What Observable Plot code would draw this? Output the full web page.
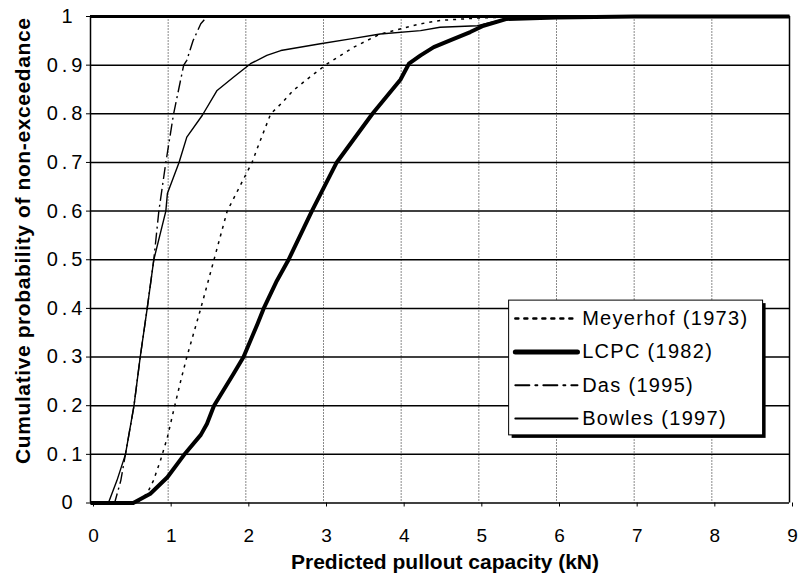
<!DOCTYPE html>
<html>
<head>
<meta charset="utf-8">
<script src="https://cdn.jsdelivr.net/npm/d3@7"></script>
<script src="https://cdn.jsdelivr.net/npm/@observablehq/plot@0.6"></script>
<style>
  body { margin: 0; background: #fff; }
  svg { font-family: "Liberation Sans", Arial, sans-serif; }
  g[aria-label="y-axis tick label"] { letter-spacing: 4px; }
  g[aria-description="legend-text"] { letter-spacing: 1.3px; }
  g[aria-description="y-title"] { letter-spacing: 0.6px; }
</style>
</head>
<body>
<div id="chart"></div>
<script>
// ---- data ----
const seriesNames = ["Meyerhof (1973)", "LCPC (1982)", "Das (1995)", "Bowles (1997)"];

const meyerhofX = [0, 0.60, 0.73, 0.81, 0.90, 0.99, 1.07, 1.16, 1.24, 1.42, 1.59, 1.76, 1.92, 2.08, 2.15, 2.32, 2.45, 2.61, 2.82, 3.05, 3.39, 3.73, 4.25, 4.5, 5.0, 5.4, 6.0, 9.0];
const meyerhofP = [0, 0, 0.02, 0.046, 0.087, 0.135, 0.19, 0.25, 0.30, 0.40, 0.50, 0.60, 0.65, 0.70, 0.73, 0.80, 0.82, 0.848, 0.875, 0.903, 0.937, 0.964, 0.985, 0.992, 0.997, 0.999, 1.0, 1.0];

const lcpcX = [0, 0.55, 0.77, 0.99, 1.20, 1.42, 1.50, 1.59, 1.84, 1.97, 2.15, 2.23, 2.40, 2.55, 2.85, 3.17, 3.63, 3.99, 4.10, 4.25, 4.42, 4.63, 4.89, 5.06, 5.36, 6.0, 7.0, 9.0];
const lcpcP = [0, 0, 0.019, 0.053, 0.098, 0.14, 0.163, 0.20, 0.265, 0.30, 0.368, 0.40, 0.457, 0.50, 0.60, 0.70, 0.80, 0.87, 0.903, 0.92, 0.937, 0.951, 0.968, 0.981, 0.995, 0.998, 1.0, 1.0];

const dasX = [0, 0.31, 0.39, 0.45, 0.56, 0.64, 0.73, 0.815, 0.88, 0.97, 1.07, 1.20, 1.24, 1.32, 1.42, 1.50, 9.0];
const dasP = [0, 0, 0.046, 0.10, 0.20, 0.30, 0.40, 0.50, 0.60, 0.70, 0.80, 0.90, 0.91, 0.95, 0.985, 1.0, 1.0];

const bowlesX = [0, 0.23, 0.34, 0.45, 0.56, 0.64, 0.73, 0.815, 0.97, 0.99, 1.14, 1.24, 1.44, 1.63, 1.84, 2.06, 2.27, 2.45, 2.96, 3.35, 3.73, 4.25, 4.5, 4.98, 5.4, 6.0, 9.0];
const bowlesP = [0, 0, 0.046, 0.10, 0.20, 0.30, 0.40, 0.50, 0.60, 0.636, 0.70, 0.752, 0.797, 0.848, 0.875, 0.903, 0.92, 0.93, 0.944, 0.954, 0.964, 0.971, 0.978, 0.981, 0.997, 1.0, 1.0];

const xTicks = [0, 1, 2, 3, 4, 5, 6, 7, 8, 9];
const yTicks = [0, 0.1, 0.2, 0.3, 0.4, 0.5, 0.6, 0.7, 0.8, 0.9, 1];
const yTickLabels = ["0", "0.1", "0.2", "0.3", "0.4", "0.5", "0.6", "0.7", "0.8", "0.9", "1"];
const xTitle = "Predicted pullout capacity (kN)";
const yTitle = "Cumulative probability of non-exceedance";

// ---- build ----
const seriesList = [
  {name: seriesNames[0], xs: meyerhofX, ps: meyerhofP},
  {name: seriesNames[1], xs: lcpcX, ps: lcpcP},
  {name: seriesNames[2], xs: dasX, ps: dasP},
  {name: seriesNames[3], xs: bowlesX, ps: bowlesP}
];
const styles = {
  [seriesNames[0]]: {w: 1.5, dash: "3,5", lw: 2.5, ldash: "3,6"},
  [seriesNames[1]]: {w: 4, dash: null, lw: 5, ldash: null},
  [seriesNames[2]]: {w: 1.4, dash: "12,4,2,4", lw: 2, ldash: "14,6,2,6"},
  [seriesNames[3]]: {w: 1.4, dash: null, lw: 2, ldash: null}
};
const rows = seriesList.flatMap(s => s.xs.map((x, i) => ({name: s.name, x, p: s.ps[i]})));

// legend layout (data units)
const lg = {x1: 5.39, x2: 8.66, top: 0.416, bottom: 0.139, first: 0.379, step: 0.0685, lineX1: 5.47, lineX2: 6.27, textX: 6.33};
const legendRows = seriesNames.map((name, i) => ({name, y: lg.first - i * lg.step}));
const labelOf = d => yTickLabels[yTicks.indexOf(d)];

const marks = [];
// vertical grid
marks.push(Plot.ruleX(xTicks.slice(1, -1), {stroke: "#8a8a8a", strokeWidth: 1, strokeDasharray: "2,1"}));
// horizontal grid
marks.push(Plot.ruleY(yTicks.slice(0, -1), {stroke: "black", strokeWidth: 1.5}));
marks.push(Plot.ruleY([1], {stroke: "black", strokeWidth: 3}));
marks.push(Plot.ruleX([0, 9], {stroke: "black", strokeWidth: 1.5}));
// curves
for (const s of seriesList) {
  const st = styles[s.name];
  marks.push(Plot.line(rows.filter(d => d.name === s.name), {
    x: "x", y: "p", stroke: "black", strokeWidth: st.w,
    strokeDasharray: st.dash ?? undefined, strokeLinejoin: "round", strokeLinecap: "butt"
  }));
}
// legend
marks.push(Plot.rect([lg], {x1: "x1", x2: "x2", y1: "bottom", y2: "top", fill: "black", dx: 3, dy: 3}));
marks.push(Plot.rect([lg], {x1: "x1", x2: "x2", y1: "bottom", y2: "top", fill: "white", stroke: "black", strokeWidth: 1}));
for (const r of legendRows) {
  const st = styles[r.name];
  marks.push(Plot.line([{x: lg.lineX1, y: r.y}, {x: lg.lineX2, y: r.y}], {
    x: "x", y: "y", stroke: "black", strokeWidth: st.lw, strokeDasharray: st.ldash ?? undefined
  }));
}
marks.push(Plot.text(legendRows, {x: () => lg.textX, y: "y", text: "name", textAnchor: "start", lineAnchor: "middle", fontSize: 20, fill: "black", ariaDescription: "legend-text"}));
// axes
marks.push(Plot.axisY(yTicks.slice(1, -1), {tickSize: 4, tickPadding: 0, fontSize: 20, label: null, tickFormat: labelOf}));
marks.push(Plot.axisY([0, 1], {tickSize: 4, tickPadding: 10, fontSize: 20, label: null, tickFormat: labelOf}));
marks.push(Plot.axisX(xTicks, {tickSize: 4, tickPadding: 21, fontSize: 19, label: null, dx: 3, tickFormat: d => String(d)}));
// titles
marks.push(Plot.text([xTitle], {frameAnchor: "bottom", lineAnchor: "middle", textAnchor: "middle", dx: 5, dy: 59, fontSize: 21, fontWeight: "bold", fill: "black"}));
marks.push(Plot.text([yTitle], {frameAnchor: "left", lineAnchor: "middle", textAnchor: "middle", dx: -67, dy: -19, rotate: -90, fontSize: 21, fontWeight: "bold", fill: "black", ariaDescription: "y-title"}));

const chart = Plot.plot({
  width: 798,
  height: 576,
  marginLeft: 90,
  marginRight: 9,
  marginTop: 16,
  marginBottom: 73.5,
  x: {domain: [0, 9]},
  y: {domain: [0, 1]},
  style: {fontFamily: "Liberation Sans, Arial, sans-serif", color: "black", background: "white", overflow: "visible"},
  marks
});
document.getElementById("chart").appendChild(chart);
</script>
</body>
</html>
